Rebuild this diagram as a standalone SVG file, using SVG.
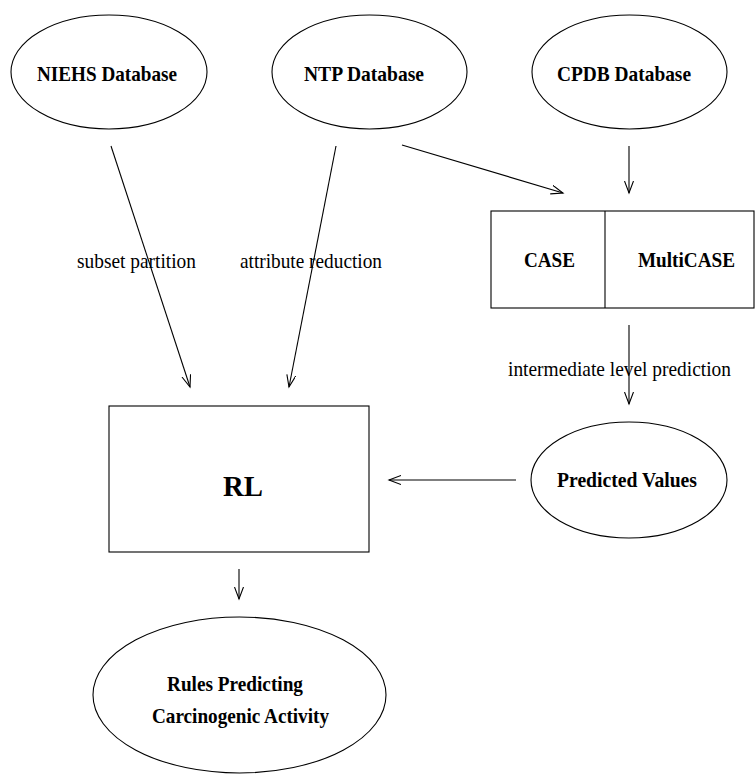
<svg xmlns="http://www.w3.org/2000/svg" width="756" height="775" viewBox="0 0 756 775">
<defs>
<style>
.shape{fill:#fff;stroke:#000;stroke-width:1.1}
.edge{fill:none;stroke:#000;stroke-width:1.1;marker-end:url(#arr)}
.b{font-family:"Liberation Serif","Times New Roman",serif;font-weight:bold;font-size:22px;fill:#000;text-anchor:middle}
.r{font-family:"Liberation Serif","Times New Roman",serif;font-size:22px;fill:#000;text-anchor:middle}
</style>
<marker id="arr" markerUnits="userSpaceOnUse" markerWidth="14" markerHeight="10" refX="12" refY="4.5" orient="auto">
<path d="M0,0 L12,4.5 L0,9" fill="none" stroke="#000" stroke-width="1.1"/>
</marker>
</defs>
<rect width="756" height="775" fill="#fff"/>
<g id="connectors">
<line class="edge" x1="111" y1="146" x2="190" y2="387"/>
<line class="edge" x1="336" y1="146" x2="289" y2="387"/>
<line class="edge" x1="402" y1="145" x2="563" y2="193"/>
<line class="edge" x1="629" y1="146" x2="629" y2="193"/>
<line class="edge" x1="629" y1="325" x2="629" y2="404"/>
<line class="edge" x1="516" y1="480" x2="389" y2="480"/>
<line class="edge" x1="239" y1="569" x2="239" y2="599"/>
<text class="r" x="136.5" y="268" textLength="119" lengthAdjust="spacingAndGlyphs">subset partition</text>
<text class="r" x="311" y="268" textLength="142" lengthAdjust="spacingAndGlyphs">attribute reduction</text>
<text class="r" x="619.5" y="376" textLength="223" lengthAdjust="spacingAndGlyphs">intermediate level prediction</text>
</g>
<g id="niehs">
<ellipse class="shape" cx="109" cy="72" rx="98" ry="57"/>
<text class="b" x="107" y="81" textLength="140" lengthAdjust="spacingAndGlyphs">NIEHS Database</text>
</g>
<g id="ntp">
<ellipse class="shape" cx="369.5" cy="72" rx="97.5" ry="57"/>
<text class="b" x="364" y="81" textLength="120" lengthAdjust="spacingAndGlyphs">NTP Database</text>
</g>
<g id="cpdb">
<ellipse class="shape" cx="629.5" cy="72" rx="97.5" ry="57"/>
<text class="b" x="624" y="81" textLength="134" lengthAdjust="spacingAndGlyphs">CPDB Database</text>
</g>
<g id="case">
<rect class="shape" x="491" y="211" width="263" height="97"/>
<line x1="605" y1="211" x2="605" y2="308" stroke="#000" stroke-width="1.1"/>
<text class="b" x="549.5" y="267" textLength="51" lengthAdjust="spacingAndGlyphs">CASE</text>
<text class="b" x="686.5" y="267" textLength="97" lengthAdjust="spacingAndGlyphs">MultiCASE</text>
</g>
<g id="rl">
<rect class="shape" x="109" y="406" width="260" height="146"/>
<text class="b" x="243" y="496" style="font-size:30px" textLength="40" lengthAdjust="spacingAndGlyphs">RL</text>
</g>
<g id="predicted">
<ellipse class="shape" cx="629" cy="480" rx="98" ry="58"/>
<text class="b" x="627" y="487" textLength="140" lengthAdjust="spacingAndGlyphs">Predicted Values</text>
</g>
<g id="rules">
<ellipse class="shape" cx="239.5" cy="695" rx="146.5" ry="78"/>
<text class="b" x="235" y="691" textLength="136" lengthAdjust="spacingAndGlyphs">Rules Predicting</text>
<text class="b" x="240.5" y="723" textLength="177" lengthAdjust="spacingAndGlyphs">Carcinogenic Activity</text>
</g>
</svg>
